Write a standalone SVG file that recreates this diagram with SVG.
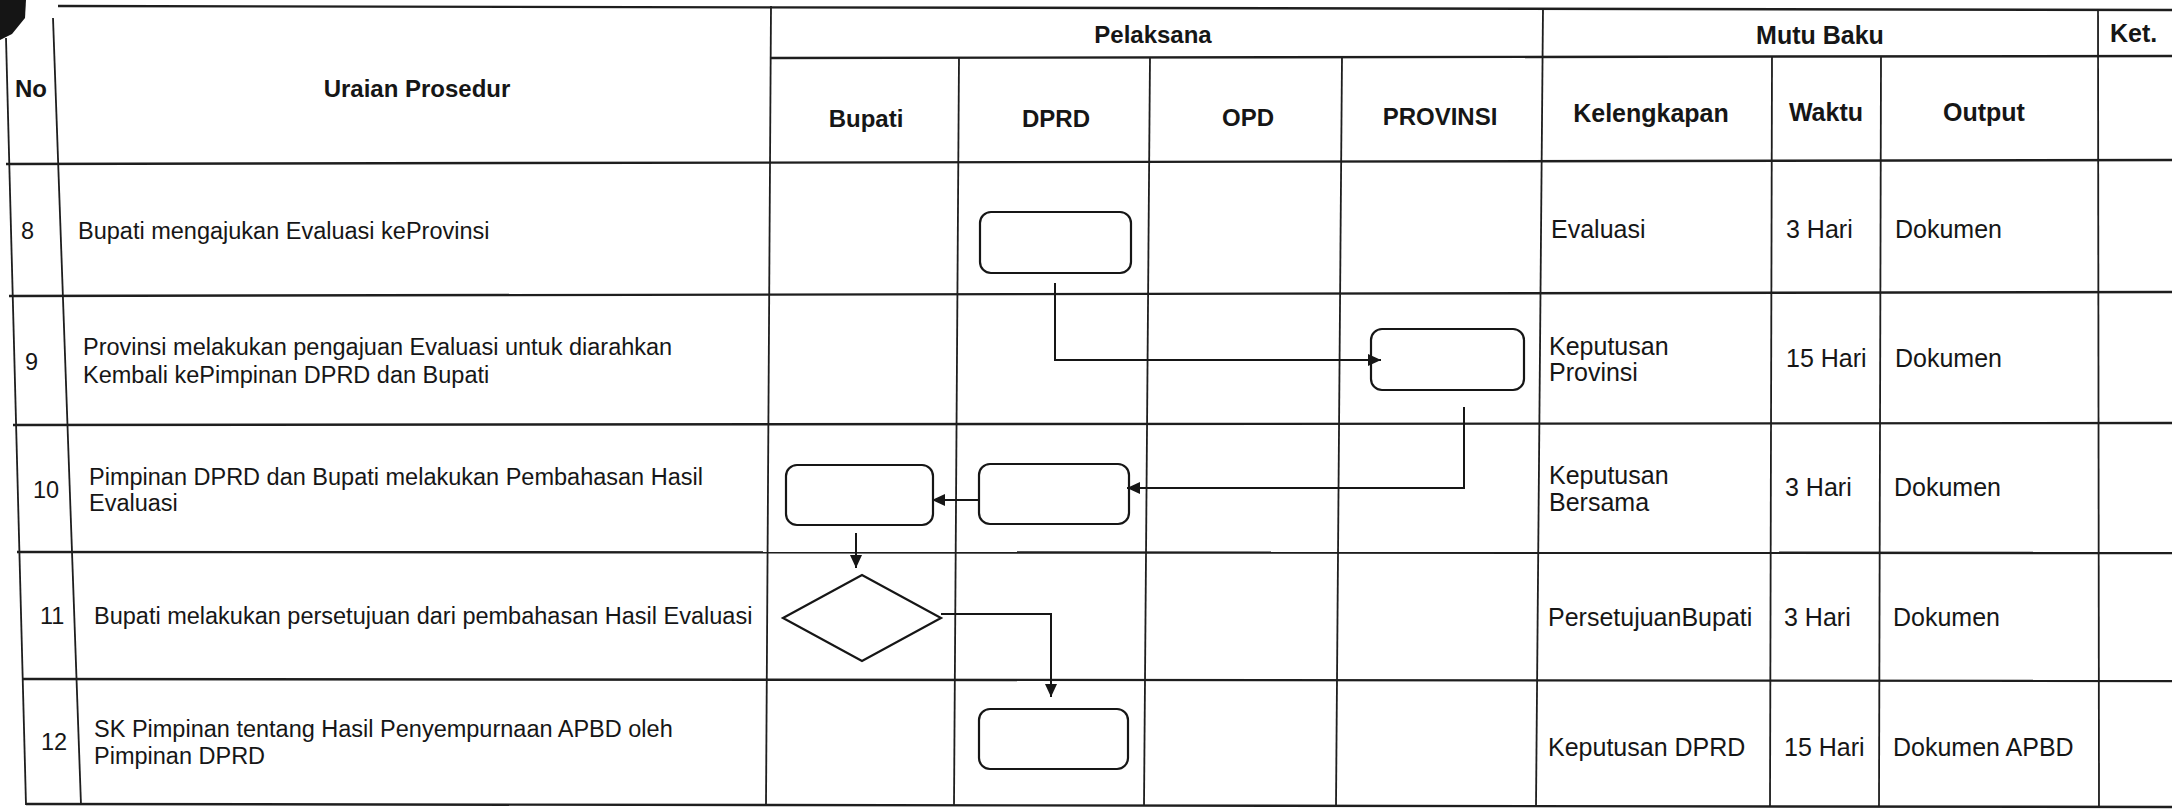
<svg xmlns="http://www.w3.org/2000/svg" width="2172" height="810" viewBox="0 0 2172 810">
  <style>
    .grid { stroke: #1e1e1e; stroke-width: 1.8; fill: none; }
    .hgrid { stroke: #1e1e1e; stroke-width: 2.4; fill: none; }
    .box { fill: #ffffff; stroke: #161616; stroke-width: 2.2; }
    .conn { fill: none; stroke: #161616; stroke-width: 2; }
    .hdr { font-family: "Liberation Sans", Arial, sans-serif; font-weight: bold; font-size: 24px; fill: #161616; }
    .hdrR { font-family: "Liberation Sans", Arial, sans-serif; font-weight: bold; font-size: 25px; fill: #161616; }
    .txt { font-family: "Liberation Sans", Arial, sans-serif; font-size: 23.5px; fill: #161616; }
    .txtR { font-family: "Liberation Sans", Arial, sans-serif; font-size: 25px; fill: #161616; }
    .mid { text-anchor: middle; }
  </style>
  <defs>
    <marker id="arrow" markerUnits="userSpaceOnUse" markerWidth="13" markerHeight="12" refX="13" refY="6" orient="auto">
      <path d="M0,0 L13,6 L0,12 z" fill="#161616"/>
    </marker>
  </defs>
  <rect x="0" y="0" width="2172" height="810" fill="#ffffff"/>
  <path d="M0,0 L26,0 L25,18 L12,34 L0,40 z" fill="#151515"/>

  <g id="table">
    <line class="hgrid" x1="58" y1="6" x2="2172" y2="10"/>
    <line class="hgrid" x1="771" y1="58" x2="2172" y2="56"/>
    <line class="hgrid" x1="6" y1="164" x2="2172" y2="160"/>
    <line class="hgrid" x1="9" y1="296" x2="2172" y2="292"/>
    <line class="hgrid" x1="13" y1="425" x2="2172" y2="423"/>
    <line class="hgrid" x1="17" y1="552" x2="2172" y2="553"/>
    <line class="hgrid" x1="22" y1="679" x2="2172" y2="681"/>
    <line class="hgrid" x1="26" y1="804" x2="2172" y2="807"/>
    <line class="grid" x1="6" y1="38" x2="26" y2="805"/>
    <line class="grid" x1="53" y1="18" x2="81" y2="805"/>
    <line class="grid" x1="771" y1="6" x2="766" y2="805"/>
    <line class="grid" x1="959" y1="57" x2="954" y2="805"/>
    <line class="grid" x1="1150" y1="57" x2="1144" y2="805"/>
    <line class="grid" x1="1342" y1="57" x2="1336" y2="805"/>
    <line class="grid" x1="1543" y1="8" x2="1536" y2="806"/>
    <line class="grid" x1="1772" y1="57" x2="1770" y2="806"/>
    <line class="grid" x1="1881" y1="57" x2="1879" y2="806"/>
    <line class="grid" x1="2098" y1="9" x2="2099" y2="806"/>
  </g>

  <g id="headers">
    <text class="hdr" x="15" y="97">No</text>
    <text class="hdr mid" x="417" y="97">Uraian Prosedur</text>
    <text class="hdr mid" x="1153" y="43">Pelaksana</text>
    <text class="hdrR mid" x="1820" y="44">Mutu Baku</text>
    <text class="hdrR" x="2110" y="42">Ket.</text>
    <text class="hdr mid" x="866" y="127">Bupati</text>
    <text class="hdr mid" x="1056" y="127">DPRD</text>
    <text class="hdr mid" x="1248" y="126">OPD</text>
    <text class="hdr mid" x="1440" y="125">PROVINSI</text>
    <text class="hdrR mid" x="1651" y="122">Kelengkapan</text>
    <text class="hdrR mid" x="1826" y="121">Waktu</text>
    <text class="hdrR mid" x="1984" y="121">Output</text>
  </g>

  <g id="rows">
    <text class="txt" x="21" y="239">8</text>
    <text class="txt" x="78" y="239">Bupati mengajukan Evaluasi keProvinsi</text>
    <text class="txtR" x="1551" y="238">Evaluasi</text>
    <text class="txtR" x="1786" y="238">3 Hari</text>
    <text class="txtR" x="1895" y="238">Dokumen</text>

    <text class="txt" x="25" y="370">9</text>
    <text class="txt" x="83" y="355">Provinsi melakukan pengajuan Evaluasi untuk diarahkan</text>
    <text class="txt" x="83" y="383">Kembali kePimpinan DPRD dan Bupati</text>
    <text class="txtR" x="1549" y="355">Keputusan</text>
    <text class="txtR" x="1549" y="381">Provinsi</text>
    <text class="txtR" x="1786" y="367">15 Hari</text>
    <text class="txtR" x="1895" y="367">Dokumen</text>

    <text class="txt" x="33" y="498">10</text>
    <text class="txt" x="89" y="485">Pimpinan DPRD dan Bupati melakukan Pembahasan Hasil</text>
    <text class="txt" x="89" y="511">Evaluasi</text>
    <text class="txtR" x="1549" y="484">Keputusan</text>
    <text class="txtR" x="1549" y="511">Bersama</text>
    <text class="txtR" x="1785" y="496">3 Hari</text>
    <text class="txtR" x="1894" y="496">Dokumen</text>

    <text class="txt" x="40" y="624">11</text>
    <text class="txt" x="94" y="624">Bupati melakukan persetujuan dari pembahasan Hasil Evaluasi</text>
    <text class="txtR" x="1548" y="626">PersetujuanBupati</text>
    <text class="txtR" x="1784" y="626">3 Hari</text>
    <text class="txtR" x="1893" y="626">Dokumen</text>

    <text class="txt" x="41" y="750">12</text>
    <text class="txt" x="94" y="737">SK Pimpinan tentang Hasil Penyempurnaan APBD oleh</text>
    <text class="txt" x="94" y="764">Pimpinan DPRD</text>
    <text class="txtR" x="1548" y="756">Keputusan DPRD</text>
    <text class="txtR" x="1784" y="756">15 Hari</text>
    <text class="txtR" x="1893" y="756">Dokumen APBD</text>
  </g>

  <g id="n8-dprd"><rect class="box" x="980" y="212" width="151" height="61" rx="11"/></g>
  <g id="n9-provinsi"><rect class="box" x="1371" y="329" width="153" height="61" rx="11"/></g>
  <g id="n10-dprd"><rect class="box" x="979" y="464" width="150" height="60" rx="11"/></g>
  <g id="n10-bupati"><rect class="box" x="786" y="465" width="147" height="60" rx="11"/></g>
  <g id="n11-decision"><polygon class="box" points="783,618 862,575 941,618 862,661"/></g>
  <g id="n12-dprd"><rect class="box" x="979" y="709" width="149" height="60" rx="11"/></g>

  <g id="connectors">
    <path class="conn" d="M1055,283 V360 H1381" marker-end="url(#arrow)"/>
    <path class="conn" d="M1464,407 V488 H1127" marker-end="url(#arrow)"/>
    <path class="conn" d="M980,500 H932" marker-end="url(#arrow)"/>
    <path class="conn" d="M856,533 V568" marker-end="url(#arrow)"/>
    <path class="conn" d="M941,614 H1051 V697" marker-end="url(#arrow)"/>
  </g>
</svg>
